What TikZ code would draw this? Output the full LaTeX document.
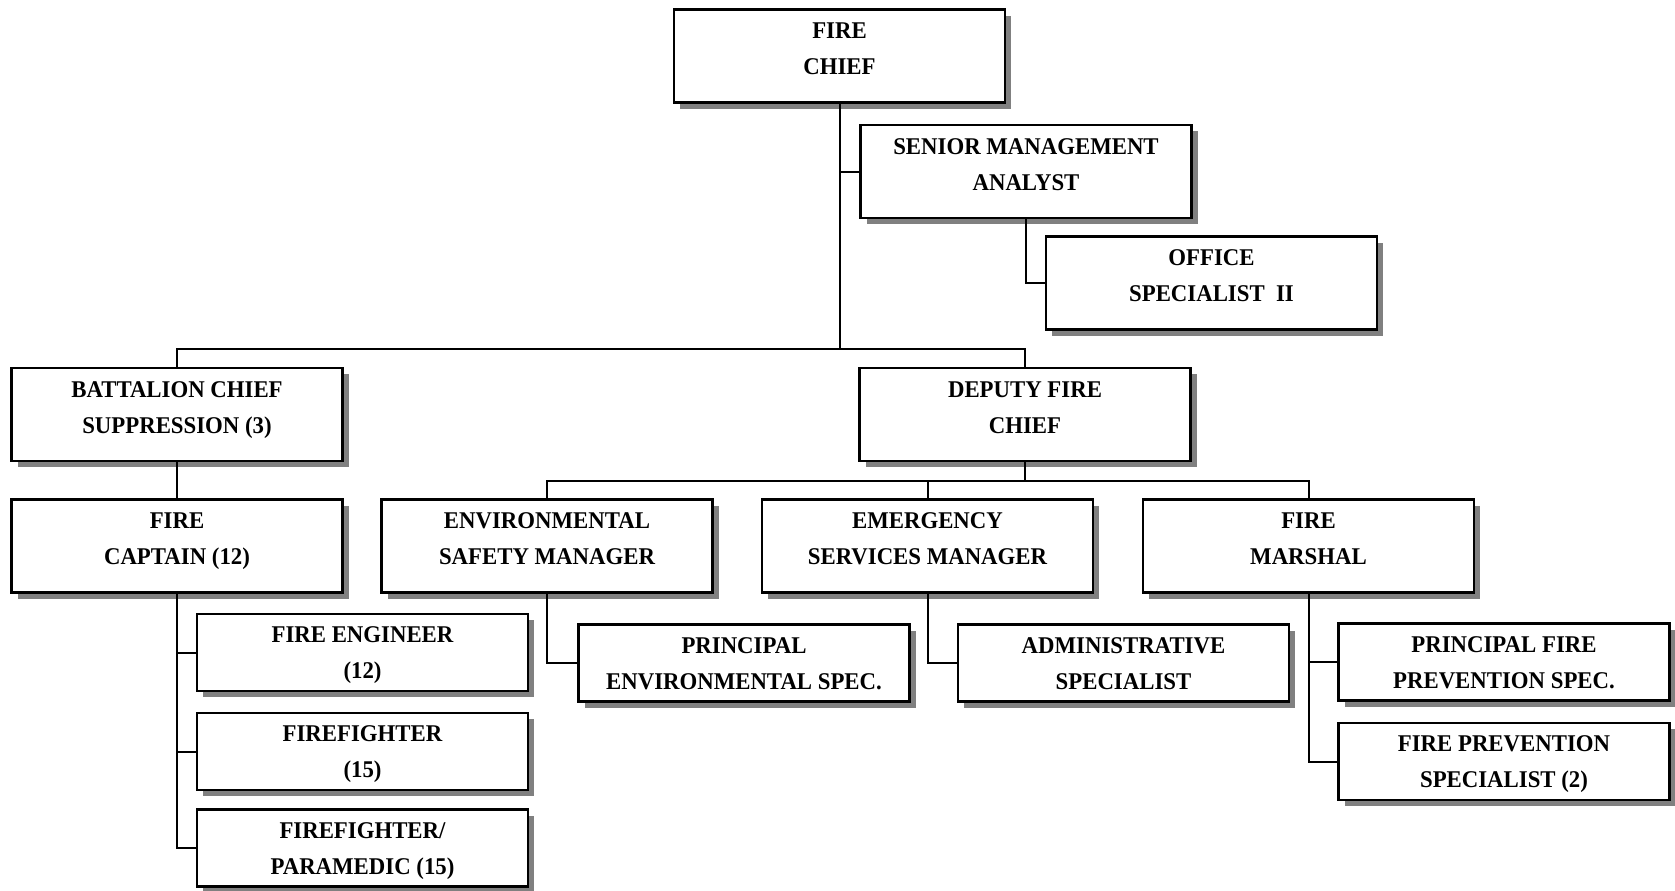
\documentclass[tikz,border=0pt]{standalone}
\usepackage{fontspec}
\setmainfont{Liberation Serif}[FakeStretch=0.95]
\usetikzlibrary{shadows}

\begin{document}
\begin{tikzpicture}[x=0.5pt,y=-0.5pt,
  post/.style = {draw, line width=1.1pt, fill=white, align=center,
    minimum width=165.5pt, inner sep=0pt, text depth=3pt,
    font=\bfseries\fontsize{12}{18}\selectfont,
    drop shadow={shadow xshift=3pt, shadow yshift=-3pt, fill=black!50, opacity=1}},
  tall/.style = {post, minimum height=46.5pt, text height=21.5pt},
  short/.style = {post, minimum height=38.5pt, text height=29pt},
  link/.style = {line width=1pt}]
        \useasboundingbox (0,0) rectangle (1675,890);
        % top level
        \node[tall] (chief) at (839.5,56) {FIRE\\CHIEF};
        \node[tall] (sma) at (1026,171.5) {SENIOR MANAGEMENT\\ANALYST};
        \node[tall] (office) at (1211.5,283) {OFFICE\\SPECIALIST \ II};
        \node[tall] (battalion) at (177,414.5) {BATTALION CHIEF\\SUPPRESSION (3)};
        \node[tall] (deputy) at (1025,414.5) {DEPUTY FIRE\\CHIEF};
        % managers
        \node[tall] (captain) at (177,546) {FIRE\\CAPTAIN (12)};
        \node[tall] (env) at (547,546) {ENVIRONMENTAL\\SAFETY MANAGER};
        \node[tall] (emerg) at (927.5,546) {EMERGENCY\\SERVICES MANAGER};
        \node[tall] (marshal) at (1308.5,546) {FIRE\\MARSHAL};
        % staff
        \node[short] (engineer) at (362.5,652.5) {FIRE ENGINEER\\(12)};
        \node[short] (ffighter) at (362.5,751.5) {FIREFIGHTER\\(15)};
        \node[short] (paramedic) at (362.5,848) {FIREFIGHTER/\\PARAMEDIC (15)};
        \node[short] (penv) at (744,663) {PRINCIPAL\\ENVIRONMENTAL SPEC.};
        \node[short] (admin) at (1123.5,663) {ADMINISTRATIVE\\SPECIALIST};
        \node[short] (pfps) at (1504,662) {PRINCIPAL FIRE\\PREVENTION SPEC.};
        \node[short] (fps) at (1504,761.5) {FIRE PREVENTION\\SPECIALIST (2)};
        \coordinate (bus1) at (839.5,349);
        \coordinate (bus2) at (1025,480.5);
        % connectors
        \draw[link] (chief) -- (bus1);
        \draw[link] (sma.west) -- (sma.west -| chief.south);
        \draw[link] (sma.south) |- (office.west);
        \draw[link] (battalion.north) |- (bus1) -| (deputy.north);
        \draw[link] (battalion) -- (captain);
        \draw[link] (deputy) -- (bus2);
        \draw[link] (env.north) |- (bus2) -| (marshal.north);
        \draw[link] (emerg.north) -- (emerg.north |- bus2);
        \draw[link] (captain.south) |- (paramedic.west);
        \draw[link] (engineer.west) -- (engineer.west -| captain.south);
        \draw[link] (ffighter.west) -- (ffighter.west -| captain.south);
        \draw[link] (env.south) |- (penv.west);
        \draw[link] (emerg.south) |- (admin.west);
        \draw[link] (marshal.south) |- (fps.west);
        \draw[link] (pfps.west) -- (pfps.west -| marshal.south);
\end{tikzpicture}
\end{document}
